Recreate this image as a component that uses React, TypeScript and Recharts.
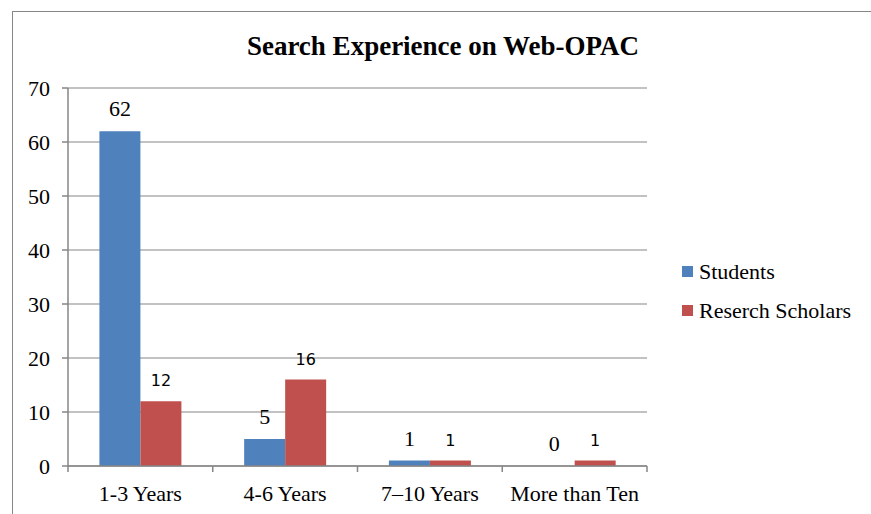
import React from 'react';
import { BarChart, Bar, XAxis, YAxis, CartesianGrid, Legend, LabelList } from 'recharts';

const categories = ['1-3 Years', '4-6 Years', '7–10 Years', 'More than Ten'];
const students = [62, 5, 1, 0];
const scholars = [12, 16, 1, 1];
const yTicks = [0, 10, 20, 30, 40, 50, 60, 70];

const data = categories.map((name, i) => ({ name, students: students[i], scholars: scholars[i] }));

const SERIF = '"Liberation Serif", "Times New Roman", serif';
const SANS = '"DejaVu Sans", sans-serif';
const GRID = '#868686';

const CategoryTick = (props: any) => {
    const { x, y, payload, index, visibleTicksCount } = props;
    const half = payload && payload.offset ? payload.offset : 72.4;
    const last = index === visibleTicksCount - 1;
    return (
        <g>
            <line x1={x - half} y1={y} x2={x - half} y2={y + 6} stroke={GRID} strokeWidth={1.5} />
            {last && <line x1={x + half} y1={y} x2={x + half} y2={y + 6} stroke={GRID} strokeWidth={1.5} />}
            <text x={x} y={y + 35} textAnchor="middle" fontFamily={SERIF} fontSize={22} fill="#000">
                {payload.value}
            </text>
        </g>
    );
};

const StudentLabel = (props: any) => {
    const { x, y, width, value } = props;
    if (!value) return null;
    return (
        <text x={x + width / 2} y={y - 15} textAnchor="middle" fontFamily={SERIF} fontSize={22} fill="#000">
            {value}
        </text>
    );
};

// Recharts gives no label slot to a zero-height bar, so the neighbouring
// scholars bar also writes the students "0" just left of itself
const ScholarLabel = (props: any) => {
    const { x, y, width, height, value, index } = props;
    const base = y + height;
    return (
        <g>
            <text x={x + width / 2} y={y - 15} textAnchor="middle" fontFamily={SANS} fontSize={16} fill="#000">
                {value}
            </text>
            {students[index] === 0 && (
                <text x={x - width / 2} y={base - 15} textAnchor="middle" fontFamily={SERIF} fontSize={22} fill="#000">
                    {students[index]}
                </text>
            )}
        </g>
    );
};

const LegendContent = () => (
    <div style={{ fontFamily: SERIF, fontSize: 22, color: '#000' }}>
        {[
            { label: 'Students', color: '#4F81BD' },
            { label: 'Reserch Scholars', color: '#C0504D' },
        ].map((item) => (
            <div key={item.label} style={{ display: 'flex', alignItems: 'center', height: 39 }}>
                <span style={{ display: 'inline-block', width: 11, height: 11, background: item.color, marginRight: 6 }} />
                <span>{item.label}</span>
            </div>
        ))}
    </div>
);

const App: React.FC = () => {
    return (
        <div style={{ position: 'absolute', left: 0, top: 0, width: 871, height: 514, overflow: 'hidden', background: '#fff' }}>
            <div style={{ position: 'absolute', left: 12, top: 11, width: 900, height: 600, border: `1.5px solid ${GRID}` }} />
            <div style={{ position: 'absolute', left: 0, top: 0 }}>
                <BarChart
                    width={871}
                    height={514}
                    data={data}
                    margin={{ top: 88, right: 29, bottom: 0, left: 0 }}
                    barCategoryGap="21.7%"
                    barGap={0}
                >
                    <text x={443} y={55} textAnchor="middle" fontFamily={SERIF} fontSize={27} fontWeight="bold" fill="#000">
                        Search Experience on Web-OPAC
                    </text>
                    <CartesianGrid vertical={false} stroke={GRID} strokeWidth={1.2} />
                    <XAxis
                        dataKey="name"
                        axisLine={{ stroke: GRID, strokeWidth: 1.5 }}
                        tickLine={false}
                        tickSize={0}
                        tickMargin={0}
                        tick={<CategoryTick />}
                        interval={0}
                        height={48}
                    />
                    <YAxis
                        width={68}
                        domain={[0, 70]}
                        ticks={yTicks}
                        interval={0}
                        axisLine={{ stroke: GRID, strokeWidth: 1.5 }}
                        tickLine={{ stroke: GRID, strokeWidth: 1.5 }}
                        tickSize={6}
                        tickMargin={12}
                        tick={{ fontFamily: SERIF, fontSize: 22, fill: '#000' }}
                    />
                    <Legend
                        layout="vertical"
                        align="right"
                        verticalAlign="middle"
                        content={<LegendContent />}
                        wrapperStyle={{ left: 682, top: 252, right: 'auto', width: 195 }}
                    />
                    <Bar dataKey="students" name="Students" fill="#4F81BD" isAnimationActive={false}>
                        <LabelList dataKey="students" content={StudentLabel} />
                    </Bar>
                    <Bar dataKey="scholars" name="Reserch Scholars" fill="#C0504D" isAnimationActive={false}>
                        <LabelList dataKey="scholars" content={ScholarLabel} />
                    </Bar>
                </BarChart>
            </div>
        </div>
    );
};

export default App;
